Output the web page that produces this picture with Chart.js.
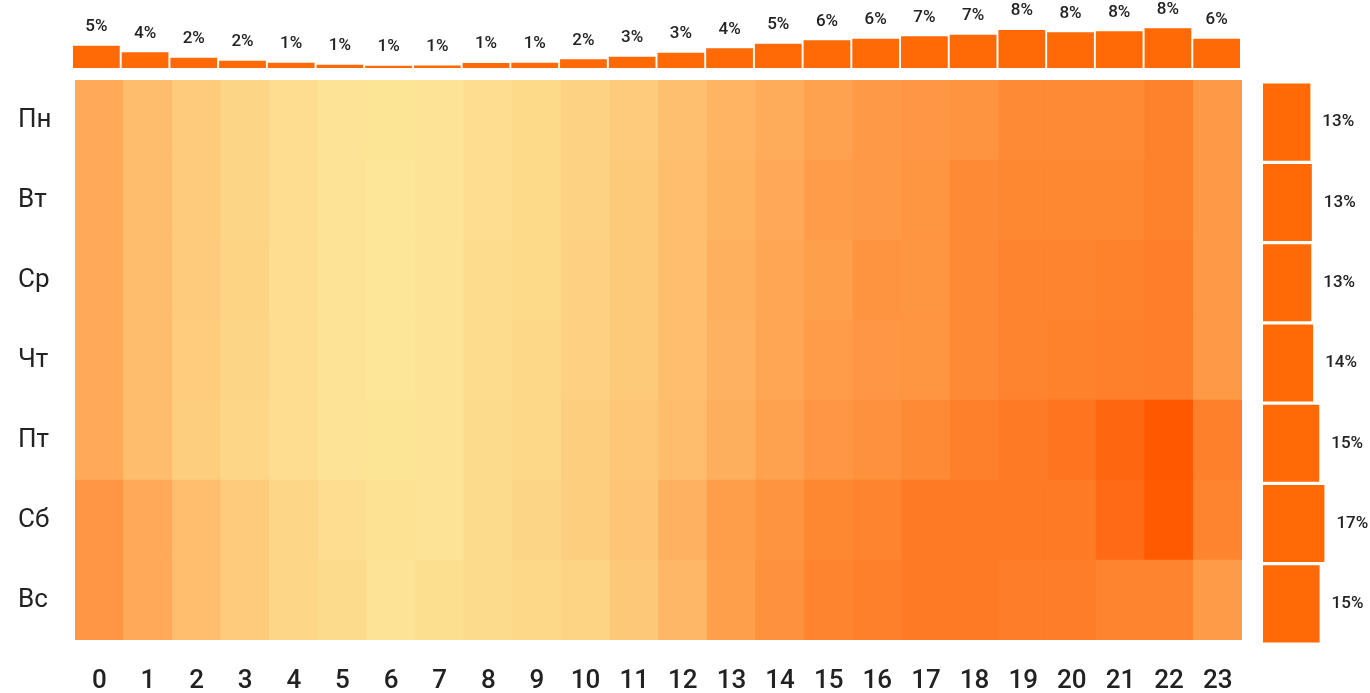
<!DOCTYPE html>
<html lang="ru">
<head>
    <meta charset="UTF-8">
    <title>Активность по дням недели и часам</title>
    <script src="https://cdn.jsdelivr.net/npm/chart.js"></script>
    <style>
        html, body { margin: 0; padding: 0; background: #fff; overflow: hidden; }
        body { width: 1370px; height: 693px; position: relative; }
        canvas { position: absolute; display: block; }
        #hourChart { left: 0; top: 0; }
        #heatChart { left: 0; top: 72px; }
        #dayChart { left: 1250px; top: 72px; }
    </style>
</head>
<body>
    <canvas id="hourChart" width="1250" height="72"></canvas>
    <canvas id="heatChart" width="1250" height="621"></canvas>
    <canvas id="dayChart" width="120" height="580"></canvas>

    <script>
        // categories
        const hours = ['0','1','2','3','4','5','6','7','8','9','10','11','12','13','14','15','16','17','18','19','20','21','22','23'];
        const days = ['Пн', 'Вт', 'Ср', 'Чт', 'Пт', 'Сб', 'Вс'];

        // share of activity by hour, %
        const hourShare = [4.86, 3.54, 2.45, 1.86, 1.45, 1.06, 0.86, 0.92, 1.4, 1.45, 2.14, 2.66,
                           3.45, 4.34, 5.26, 5.94, 6.26, 6.74, 7.06, 8.0, 7.54, 7.74, 8.34, 6.26];

        // share of activity by weekday, %
        const dayShare = [12.8, 13.2, 13.05, 13.55, 15.2, 16.6, 15.3];

        // relative activity per day/hour (0..100), one array per weekday
        const monValues = [42, 29, 19, 12, 6, 2, 1, 2, 6, 9, 14, 19, 27, 35, 41, 48, 54, 56, 58, 65, 65, 65, 71, 54];
        const tueValues = [42, 29, 19, 12, 6, 2, 0, 2, 6, 9, 14, 20, 28, 36, 43, 52, 54, 57, 65, 67, 67, 67, 71, 54];
        const wedValues = [42, 29, 19, 13, 6, 2, 0, 2, 7, 9, 15, 20, 28, 38, 45, 50, 58, 57, 65, 69, 69, 71, 73, 54];
        const thuValues = [42, 29, 18, 12, 6, 2, 0, 2, 7, 10, 15, 20, 28, 37, 45, 52, 56, 57, 65, 69, 71, 72, 73, 54];
        const friValues = [42, 29, 17, 11, 6, 2, 1, 2, 8, 10, 17, 22, 29, 39, 48, 56, 60, 65, 72, 76, 80, 90, 100, 72];
        const satValues = [56, 42, 28, 19, 11, 6, 3, 2, 8, 12, 17, 23, 37, 51, 58, 67, 69, 76, 76, 76, 76, 87, 99, 69];
        const sunValues = [56, 42, 28, 19, 11, 8, 2, 5, 8, 10, 13, 21, 33, 50, 60, 69, 72, 76, 76, 74, 74, 69, 69, 53];

        const heatRows = [monValues, tueValues, wedValues, thuValues, friValues, satValues, sunValues];

        const barColor = '#ff6a06';
        const textColor = '#222';
        const fontFamily = 'Roboto, "Noto Sans", sans-serif';

        // light yellow -> deep orange
        const lowColor = [253, 230, 152];
        const highColor = [255, 88, 0];
        function heatColor(v) {
            const t = Math.max(0, Math.min(1, v / 100));
            const c = lowColor.map((lo, k) => Math.round(lo + (highColor[k] - lo) * t));
            return 'rgb(' + c.join(',') + ')';
        }

        // draws "N%" labels next to bars
        const valueLabels = {
            id: 'valueLabels',
            afterDatasetsDraw(chart, args, opts) {
                const ctx = chart.ctx;
                const data = chart.data.datasets[0].data;
                ctx.save();
                ctx.font = opts.font;
                ctx.fillStyle = opts.color;
                ctx.textBaseline = 'middle';
                chart.getDatasetMeta(0).data.forEach((bar, i) => {
                    const text = Math.round(data[i]) + '%';
                    if (opts.side === 'top') {
                        ctx.textAlign = 'center';
                        ctx.fillText(text, bar.x, bar.y - opts.offset);
                    } else {
                        ctx.textAlign = 'left';
                        ctx.fillText(text, bar.x + opts.offset, bar.y);
                    }
                });
                ctx.restore();
            }
        };

        // Hour totals (top)
        new Chart(document.getElementById('hourChart'), {
            type: 'bar',
            data: {
                labels: hours,
                datasets: [{
                    data: hourShare,
                    backgroundColor: barColor,
                    barPercentage: 0.96,
                    categoryPercentage: 1
                }]
            },
            options: {
                responsive: false,
                animation: false,
                layout: { padding: { left: 72, right: 9, top: 28, bottom: 4 } },
                scales: {
                    x: { display: false },
                    y: { display: false, min: 0.4, max: 8.4 }
                },
                plugins: {
                    legend: { display: false },
                    tooltip: { enabled: false },
                    valueLabels: { side: 'top', offset: 19, color: textColor, font: '500 17px ' + fontFamily }
                }
            },
            plugins: [valueLabels]
        });

        // Heatmap: one stacked dataset per weekday, bottom row first
        const heatDatasets = heatRows.map((row, i) => ({
            label: days[i],
            data: hours.map(() => 1),
            backgroundColor: row.map(heatColor),
            barPercentage: 1,
            categoryPercentage: 1,
            borderWidth: 0
        })).reverse();

        new Chart(document.getElementById('heatChart'), {
            type: 'bar',
            data: { labels: hours, datasets: heatDatasets },
            options: {
                responsive: false,
                animation: false,
                layout: { padding: { left: 18, right: 8, top: 8, bottom: 0 } },
                scales: {
                    x: {
                        stacked: true,
                        grid: { display: false, drawTicks: false },
                        border: { display: false },
                        ticks: { color: textColor, padding: 26, font: { family: fontFamily, size: 26, weight: '500' } },
                        afterFit: (scale) => {
                            scale.height = 53;
                            scale.paddingLeft = 0;
                            scale.paddingRight = 0;
                        }
                    },
                    y: {
                        stacked: true,
                        min: 0,
                        max: 7,
                        grid: { display: false, drawTicks: false },
                        border: { display: false },
                        afterBuildTicks: (axis) => {
                            axis.ticks = days.map((d, i) => ({ value: 6.5 - i }));
                        },
                        ticks: {
                            crossAlign: 'far',
                            color: textColor,
                            font: { family: fontFamily, size: 26 },
                            callback: (value) => days[Math.round(6.5 - value)]
                        },
                        afterFit: (scale) => {
                            scale.width = 57;
                            scale.paddingTop = 0;
                            scale.paddingBottom = 0;
                        }
                    }
                },
                plugins: {
                    legend: { display: false },
                    tooltip: { enabled: false }
                }
            }
        });

        // Weekday totals (right)
        new Chart(document.getElementById('dayChart'), {
            type: 'bar',
            data: {
                labels: days,
                datasets: [{
                    data: dayShare,
                    backgroundColor: barColor,
                    barPercentage: 0.96,
                    categoryPercentage: 1
                }]
            },
            options: {
                indexAxis: 'y',
                responsive: false,
                animation: false,
                layout: { padding: { left: 13, right: 14.5, top: 10, bottom: 8 } },
                scales: {
                    x: { display: false, min: 0, max: 25 },
                    y: { display: false }
                },
                plugins: {
                    legend: { display: false },
                    tooltip: { enabled: false },
                    valueLabels: { side: 'right', offset: 12, color: textColor, font: '500 17px ' + fontFamily }
                }
            },
            plugins: [valueLabels]
        });
    </script>
</body>
</html>
